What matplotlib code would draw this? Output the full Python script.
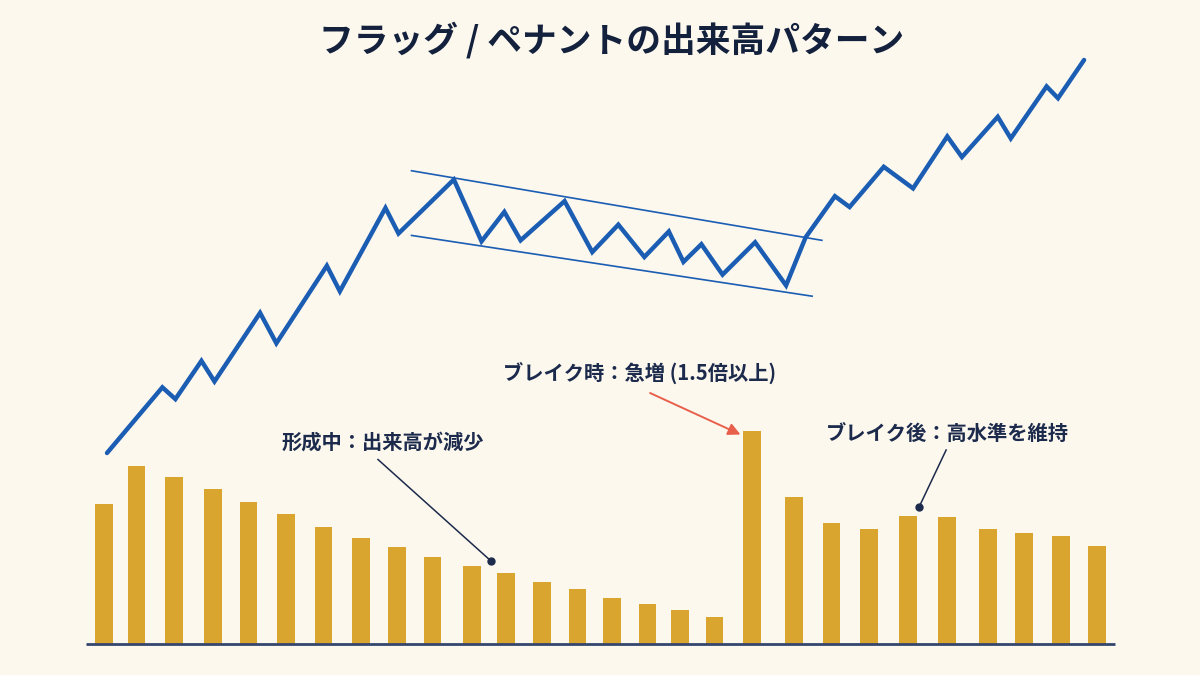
import matplotlib
matplotlib.use("Agg")
import matplotlib.pyplot as plt

plt.rcParams['font.family'] = ['Noto Sans CJK JP', 'DejaVu Sans']

# ---------------- data ----------------
title = "フラッグ / ペナントの出来高パターン"

# price path (time step, price)
price_t = [0.0, 3.4, 4.2, 5.8, 6.6, 9.4, 10.4, 13.5, 14.3, 17.1, 17.9, 21.3,
           23.0, 24.4, 25.4, 28.1, 29.8, 31.4, 33.0, 34.5, 35.4, 36.5, 37.8,
           39.8, 41.7, 42.9, 44.7, 45.6, 47.7, 49.5, 51.6, 52.5, 54.7, 55.5,
           57.7, 58.4, 60.0]
price_v = [100.0, 106.7, 105.5, 109.4, 107.3, 114.3, 111.2, 119.1, 116.5, 125.0,
           122.4, 127.9, 121.6, 124.6, 121.7, 125.7, 120.5, 123.3, 120.0, 122.6,
           119.5, 121.3, 118.2, 121.5, 117.1, 122.0, 126.2, 125.1, 129.2, 127.0,
           132.3, 130.2, 134.3, 132.1, 137.4, 136.2, 140.1]

# flag channel lines (start/end time, price)
upper_t = [18.7, 43.9]
upper_v = [128.8, 121.7]
lower_t = [18.7, 43.3]
lower_v = [122.2, 116.0]

# volume bars
vol_t = [-0.2, 1.8, 4.1, 6.5, 8.7, 11.0, 13.3, 15.6, 17.8, 20.0, 22.4, 24.5,
         26.7, 28.9, 31.0, 33.2, 35.2, 37.3, 39.6, 42.2, 44.5, 46.8, 49.2,
         51.6, 54.1, 56.3, 58.6, 60.8]
vol_v = [140, 178, 167, 155, 142, 130, 117, 106, 97, 87, 78, 71, 62, 55, 46,
         40, 34, 27, 213, 147, 121, 115, 128, 127, 115, 111, 108, 98]

label_form = "形成中：出来高が減少"
label_break = "ブレイク時：急増 (1.5倍以上)"
label_after = "ブレイク後：高水準を維持"

# ---------------- style ----------------
BG = "#FCF8EE"
BLUE = "#1B5DB3"
GOLD = "#DAA52F"
NAVY = "#1C2A4C"
RED = "#E8604C"

fig = plt.figure(figsize=(12, 6.75), dpi=100, facecolor=BG)

XLIM = (-6.571, 67.12)

ax_vol = fig.add_axes([0, 0, 1, 1])
ax_vol.set_xlim(*XLIM)
ax_vol.set_ylim(-31.5, 643.5)
ax_vol.axis('off')
ax_vol.patch.set_alpha(0)

ax_vol.bar(vol_t, vol_v, width=1.08, color=GOLD, zorder=2)
ax_vol.hlines(0, -1.29, 61.9, color="#34466E", lw=2.0, zorder=3)

ax_price = fig.add_axes([0, 0, 1, 1])
ax_price.set_xlim(*XLIM)
ax_price.set_ylim(77.35, 146.22)
ax_price.axis('off')
ax_price.patch.set_alpha(0)

ax_price.plot(price_t, price_v, color=BLUE, lw=3.2, solid_joinstyle='miter',
              solid_capstyle='round', zorder=4)
ax_price.plot(upper_t, upper_v, color=BLUE, lw=1.2, zorder=3)
ax_price.plot(lower_t, lower_v, color=BLUE, lw=1.2, zorder=3)

# title
fig.text(0.51, 1 - 40 / 675, title, ha='center', va='center',
         fontsize=25, fontweight='bold', color="#14213D")

# annotations (volume-axes coordinates)
tfs = 14.6
ax_vol.text(10.75, 201.5, label_form, ha='left', va='center', fontsize=tfs,
            fontweight='bold', color=NAVY, zorder=5)
ax_vol.plot([16.64, 23.58], [184.0, 82.5], color=NAVY, lw=1.1, zorder=5)
ax_vol.plot([23.58], [82.5], 'o', color=NAVY, ms=5, zorder=6)

ax_vol.text(24.32, 270.5, label_break, ha='left', va='center', fontsize=tfs,
            fontweight='bold', color=NAVY, zorder=5)
ax_vol.annotate("", xy=(38.9, 209.0), xytext=(33.35, 250.5),
                arrowprops=dict(arrowstyle='-|>', color=RED, lw=1.4,
                                mutation_scale=18, shrinkA=0, shrinkB=0),
                zorder=5)

ax_vol.text(44.16, 210.5, label_after, ha='left', va='center', fontsize=tfs,
            fontweight='bold', color=NAVY, zorder=5)
ax_vol.plot([51.53, 49.87], [193.5, 136.5], color=NAVY, lw=1.1, zorder=5)
ax_vol.plot([49.87], [136.5], 'o', color=NAVY, ms=5, zorder=6)

fig.savefig("out.png", dpi=100, facecolor=BG)
